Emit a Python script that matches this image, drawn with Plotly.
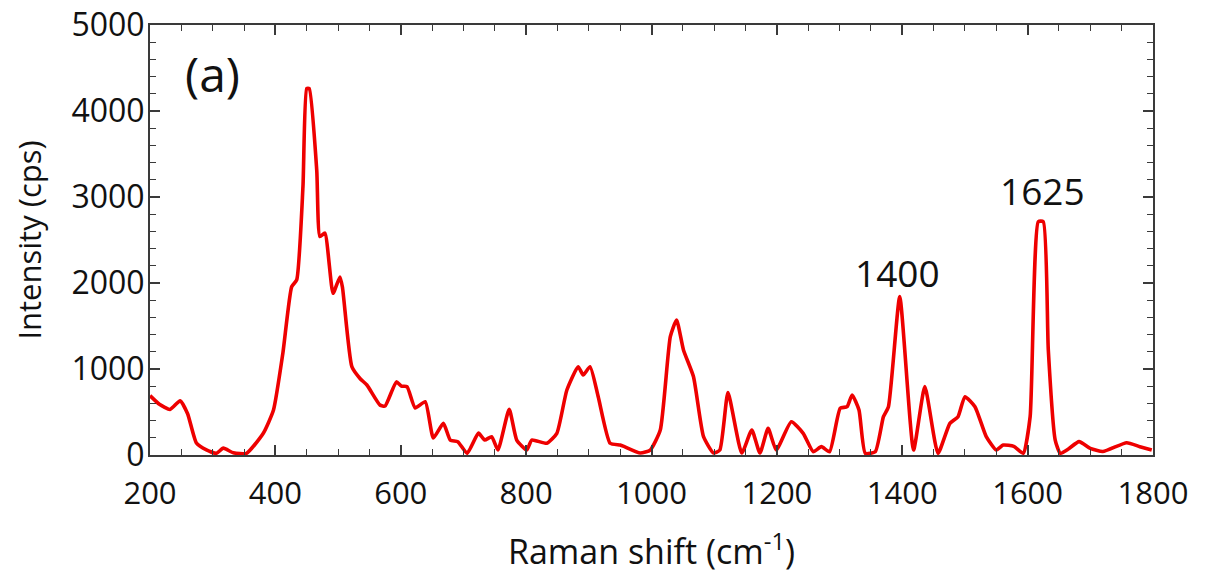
import plotly.graph_objects as go

raman_shift = [200, 215, 232, 248, 260, 274, 290, 306, 317, 333, 354, 381, 397, 412, 426, 434, 444, 450, 454,
               466, 471, 479, 492, 503, 507, 522, 535, 546, 567, 575, 593, 601, 610, 623, 639, 652, 668, 679,
               691, 706, 724, 734, 745, 755, 773, 785, 801, 809, 833, 849, 865, 883, 891, 902, 915, 934, 950,
               956, 982, 998, 1014, 1030, 1040, 1051, 1067, 1083, 1099, 1109, 1122, 1144, 1160, 1173, 1186,
               1199, 1223, 1242, 1258, 1271, 1284, 1301, 1312, 1320, 1331, 1341, 1357, 1370, 1378, 1396, 1418,
               1436, 1457, 1476, 1489, 1500, 1516, 1534, 1550, 1561, 1578, 1593, 1604, 1617, 1625, 1633, 1644,
               1652, 1665, 1682, 1700, 1720, 1758, 1779, 1798]
intensity = [690, 590, 530, 630, 480, 140, 60, 20, 80, 25, 20, 256, 523, 1186, 1957, 2035, 3120, 4260, 4260,
             3310, 2540, 2580, 1880, 2070, 1950, 1027, 890, 814, 580, 570, 850, 800, 795, 547, 620, 198, 368, 174,
             155, 20, 254, 174, 213, 58, 531, 174, 58, 174, 136, 252, 756, 1027, 930, 1027, 678, 136, 116,
             100, 23, 58, 290, 1376, 1570, 1221, 910, 213, 23, 58, 725, 23, 290, 23, 310,
             58, 387, 252, 38, 97, 38, 543, 562, 698, 523, 20, 38, 445, 562, 1841, 58,
             795, 20, 368, 445, 678, 562, 213, 58, 116, 100, 20, 445, 2713, 2713, 1221, 174,
             20, 70, 155, 78, 40, 143, 97, 58]

peak_labels = ["1400", "1625"]
peak_x = [1392, 1623]
peak_y = [2120, 3070]
panel_label = "(a)"

FONT = "Open Sans"
AX = "#3a3a3a"
TXT = "#111111"

fig = go.Figure()
fig.add_trace(go.Scatter(x=raman_shift, y=intensity, mode="lines",
                         line=dict(color="#ee0000", width=3.6, shape="spline", smoothing=0.5),
                         showlegend=False))

for t, px, py in zip(peak_labels, peak_x, peak_y):
    fig.add_annotation(x=px, y=py, text=t, showarrow=False,
                       font=dict(family=FONT, size=37, color=TXT))
fig.add_annotation(x=300, y=4440, text=panel_label, showarrow=False,
                   font=dict(family=FONT, size=48, color=TXT))

axis_common = dict(showline=True, linecolor=AX, linewidth=2, mirror="allticks",
                   ticks="inside", tickcolor=AX, tickwidth=1.5, ticklen=10,
                   showgrid=False, zeroline=False, automargin=False)

fig.update_layout(
    width=1212, height=586,
    margin=dict(l=150, r=59, t=25, b=131),
    paper_bgcolor="white", plot_bgcolor="white",
    xaxis=dict(range=[200, 1800], tickvals=[200, 400, 600, 800, 1000, 1200, 1400, 1600, 1800],
               tickfont=dict(family=FONT, size=31, color=TXT),
               minor=dict(dtick=50, ticks="inside", ticklen=6, tickcolor=AX, tickwidth=1.2),
               title=dict(text="Raman shift (cm<sup>-1</sup>)", font=dict(family=FONT, size=34, color=TXT),
                          standoff=28),
               ticklabelstandoff=10,
               **axis_common),
    yaxis=dict(range=[0, 5000], tickvals=[0, 1000, 2000, 3000, 4000, 5000],
               tickfont=dict(family=FONT, size=32, color=TXT),
               minor=dict(dtick=200, ticks="inside", ticklen=6, tickcolor=AX, tickwidth=1.2),
               title=dict(text="Intensity (cps)", font=dict(family=FONT, size=31, color=TXT),
                          standoff=21),
               ticklabelstandoff=-3,
               **axis_common),
)

fig.write_html("out.html")
